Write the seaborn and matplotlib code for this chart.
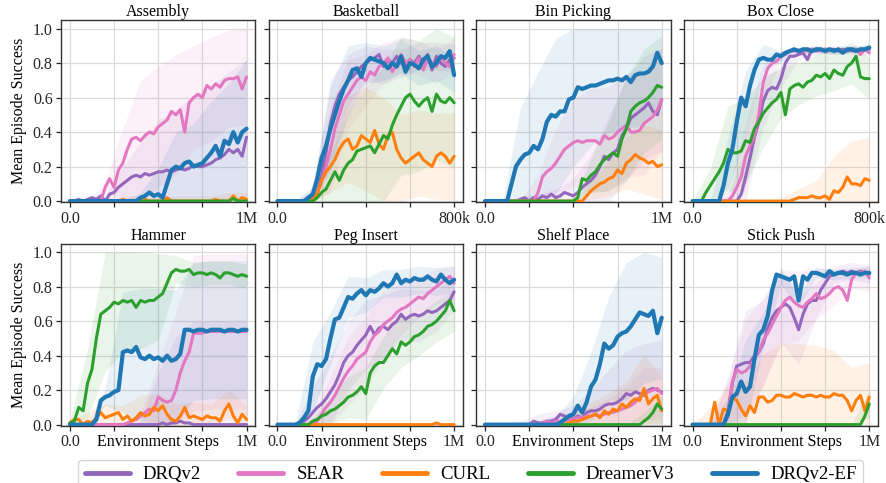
import numpy as np
import pandas as pd
import matplotlib
matplotlib.use("Agg")
import matplotlib.pyplot as plt
from matplotlib.lines import Line2D
import seaborn as sns

# ---------------- data ----------------
METHODS = ["DRQv2", "SEAR", "CURL", "DreamerV3", "DRQv2-EF"]
COLORS = ["#9467bd", "#e377c2", "#ff7f0e", "#2ca02c", "#1f77b4"]
TASKS = ["Assembly", "Basketball", "Bin Picking", "Box Close",
         "Hammer", "Peg Insert", "Shelf Place", "Stick Push"]
TASK_STEPS = [1_000_000, 800_000, 1_000_000, 800_000,
              1_000_000, 1_000_000, 1_000_000, 1_000_000]
END_LABELS = ["1M", "800k", "1M", "800k", "1M", "1M", "1M", "1M"]
Z = 0.0

# Assembly
ASSEMBLY_DRQV2 = [0, 0, 0.01, 0, 0.01, 0.02, 0.01, 0.03, 0, 0.04, 0.05, 0.08, 0.10, 0.12, 0.14, 0.15, 0.14, 0.16, 0.15, 0.16, 0.17, 0.17, 0.18, 0.17, 0.18, 0.19, 0.18, 0.19, 0.21, 0.20, 0.20, 0.21, 0.22, 0.24, 0.25, 0.27, 0.30, 0.28, 0.30, 0.26, 0.37]
ASSEMBLY_SEAR = [Z] * 8 + [0.08, 0.13, 0.08, 0.18, 0.22, 0.30, 0.36, 0.37, 0.35, 0.38, 0.40, 0.39, 0.43, 0.45, 0.47, 0.52, 0.50, 0.53, 0.40, 0.57, 0.60, 0.62, 0.60, 0.67, 0.65, 0.68, 0.66, 0.70, 0.71, 0.71, 0.72, 0.65, 0.72]
ASSEMBLY_CURL = [0, 0, 0, 0, 0, 0, 0, 0, 0, 0, 0, 0, 0.01, 0, 0, 0, 0, 0.01, 0, 0, 0, 0, 0.02, 0, 0, 0, 0, 0, 0, 0, 0, 0, 0, 0.01, 0, 0, 0, 0.03, 0, 0.02, 0.01]
ASSEMBLY_DREAMER = [Z] * 37 + [0.015, 0, 0, 0]
ASSEMBLY_EF = [Z] * 16 + [0.02, 0.03, 0.05, 0.03, 0.04, 0.02, 0.10, 0.18, 0.20, 0.19, 0.22, 0.23, 0.20, 0.21, 0.22, 0.25, 0.28, 0.32, 0.26, 0.35, 0.33, 0.40, 0.34, 0.40, 0.42]
ASSEMBLY_DRQV2_SD = [0, 0.01, 0.03, 0.10, 0.20, 0.30, 0.35, 0.40, 0.45, 0.45, 0.45]
ASSEMBLY_SEAR_SD = [0, 0, 0.03, 0.20, 0.35, 0.35, 0.35, 0.30, 0.30, 0.28, 0.28]
ASSEMBLY_CURL_SD = [0, 0, 0, 0.02, 0.03, 0.02, 0.03, 0.03, 0.03, 0.05, 0.04]
ASSEMBLY_DREAMER_SD = [0, 0, 0, 0, 0, 0, 0, 0, 0.01, 0.02, 0.01]
ASSEMBLY_EF_SD = [0, 0, 0, 0, 0.03, 0.15, 0.20, 0.25, 0.30, 0.35, 0.40]

# Basketball
BASKETBALL_DRQV2 = [Z] * 8 + [0.02, 0.05, 0.15, 0.28, 0.45, 0.55, 0.62, 0.66, 0.70, 0.72, 0.75, 0.78, 0.80, 0.82, 0.83, 0.85, 0.78, 0.82, 0.80, 0.84, 0.80, 0.78, 0.82, 0.80, 0.84, 0.80, 0.85, 0.76, 0.84, 0.80, 0.78, 0.82, 0.83]
BASKETBALL_SEAR = [Z] * 9 + [0.05, 0.12, 0.20, 0.30, 0.42, 0.50, 0.58, 0.62, 0.66, 0.70, 0.72, 0.70, 0.75, 0.73, 0.78, 0.80, 0.83, 0.75, 0.79, 0.85, 0.80, 0.82, 0.78, 0.83, 0.76, 0.82, 0.80, 0.78, 0.84, 0.80, 0.78, 0.85]
BASKETBALL_CURL = [Z] * 8 + [0.01, 0.04, 0.12, 0.17, 0.20, 0.24, 0.30, 0.34, 0.36, 0.30, 0.32, 0.38, 0.36, 0.34, 0.41, 0.33, 0.30, 0.38, 0.40, 0.30, 0.25, 0.22, 0.24, 0.26, 0.28, 0.24, 0.22, 0.20, 0.26, 0.28, 0.26, 0.22, 0.26]
BASKETBALL_DREAMER = [Z] * 9 + [0.02, 0.05, 0.07, 0.12, 0.17, 0.12, 0.18, 0.22, 0.24, 0.29, 0.30, 0.31, 0.32, 0.28, 0.33, 0.38, 0.36, 0.44, 0.50, 0.55, 0.60, 0.62, 0.58, 0.55, 0.58, 0.60, 0.52, 0.62, 0.58, 0.57, 0.60, 0.57]
BASKETBALL_EF = [Z] * 7 + [0.02, 0.04, 0.13, 0.25, 0.32, 0.42, 0.50, 0.58, 0.65, 0.70, 0.76, 0.77, 0.72, 0.80, 0.83, 0.82, 0.81, 0.80, 0.77, 0.80, 0.78, 0.84, 0.75, 0.80, 0.79, 0.77, 0.82, 0.84, 0.78, 0.80, 0.84, 0.83, 0.87, 0.73]
BASKETBALL_DRQV2_SD = [0, 0, 0.05, 0.25, 0.15, 0.10, 0.10, 0.08, 0.08, 0.08, 0.08]
BASKETBALL_SEAR_SD = [0, 0, 0.05, 0.25, 0.20, 0.15, 0.12, 0.10, 0.10, 0.10, 0.10]
BASKETBALL_CURL_SD = [0, 0, 0.02, 0.15, 0.25, 0.30, 0.30, 0.25, 0.25, 0.25, 0.25]
BASKETBALL_DREAMER_SD = [0, 0, 0.02, 0.15, 0.30, 0.35, 0.40, 0.40, 0.38, 0.38, 0.38]
BASKETBALL_EF_SD = [0, 0, 0.05, 0.25, 0.20, 0.12, 0.10, 0.10, 0.10, 0.10, 0.10]

# Bin Picking
BIN_DRQV2 = [Z] * 8 + [0.01, 0.02, 0.0, 0.02, 0.01, 0.03, 0.02, 0.04, 0.02, 0.03, 0.05, 0.04, 0.03, 0.05, 0.08, 0.10, 0.12, 0.15, 0.20, 0.26, 0.24, 0.28, 0.30, 0.38, 0.42, 0.48, 0.50, 0.52, 0.54, 0.57, 0.52, 0.50, 0.59]
BIN_SEAR = [Z] * 12 + [0.05, 0.14, 0.17, 0.19, 0.22, 0.26, 0.30, 0.32, 0.34, 0.35, 0.34, 0.35, 0.35, 0.35, 0.33, 0.38, 0.36, 0.37, 0.40, 0.42, 0.44, 0.40, 0.40, 0.41, 0.45, 0.47, 0.49, 0.53, 0.59]
BIN_CURL = [Z] * 23 + [0.03, 0.06, 0.08, 0.10, 0.11, 0.13, 0.14, 0.18, 0.16, 0.22, 0.24, 0.27, 0.25, 0.24, 0.22, 0.23, 0.20, 0.21]
BIN_DREAMER = [Z] * 21 + [0.02, 0.13, 0.12, 0.15, 0.17, 0.21, 0.24, 0.26, 0.28, 0.26, 0.36, 0.42, 0.52, 0.55, 0.57, 0.58, 0.60, 0.63, 0.67, 0.66]
BIN_EF = [Z] * 6 + [0.10, 0.20, 0.24, 0.27, 0.28, 0.32, 0.30, 0.36, 0.46, 0.50, 0.49, 0.52, 0.52, 0.59, 0.60, 0.66, 0.65, 0.66, 0.67, 0.67, 0.68, 0.69, 0.70, 0.70, 0.71, 0.70, 0.72, 0.69, 0.73, 0.74, 0.74, 0.75, 0.78, 0.86, 0.80]
BIN_DRQV2_SD = [0, 0, 0.02, 0.03, 0.05, 0.10, 0.15, 0.25, 0.30, 0.30, 0.30]
BIN_SEAR_SD = [0, 0, 0, 0.10, 0.20, 0.25, 0.30, 0.30, 0.30, 0.30, 0.30]
BIN_CURL_SD = [0, 0, 0, 0, 0, 0, 0.05, 0.10, 0.15, 0.20, 0.20]
BIN_DREAMER_SD = [0, 0, 0, 0, 0, 0, 0.10, 0.20, 0.30, 0.30, 0.30]
BIN_EF_SD = [0, 0, 0.30, 0.45, 0.45, 0.40, 0.35, 0.30, 0.30, 0.30, 0.20]

# Box Close
BOX_DRQV2 = [Z] * 11 + [0.04, 0.14, 0.25, 0.37, 0.46, 0.58, 0.64, 0.66, 0.65, 0.71, 0.80, 0.84, 0.84, 0.85, 0.86, 0.82, 0.88, 0.87, 0.88, 0.87, 0.88, 0.88, 0.87, 0.88, 0.87, 0.88, 0.88, 0.87, 0.88, 0.88]
BOX_SEAR = [Z] * 9 + [0.03, 0.08, 0.14, 0.26, 0.32, 0.38, 0.50, 0.69, 0.77, 0.80, 0.81, 0.84, 0.85, 0.87, 0.87, 0.87, 0.88, 0.87, 0.88, 0.88, 0.87, 0.88, 0.88, 0.87, 0.88, 0.87, 0.88, 0.87, 0.88, 0.85, 0.88, 0.86]
BOX_CURL = [Z] * 23 + [0.01, 0.02, 0.02, 0.02, 0.03, 0.02, 0.02, 0.03, 0.01, 0.06, 0.05, 0.08, 0.14, 0.10, 0.10, 0.09, 0.13, 0.12]
BOX_DREAMER = [Z] * 3 + [0.05, 0.09, 0.13, 0.17, 0.22, 0.30, 0.28, 0.28, 0.29, 0.35, 0.34, 0.42, 0.46, 0.51, 0.54, 0.57, 0.59, 0.63, 0.50, 0.65, 0.67, 0.68, 0.66, 0.69, 0.70, 0.73, 0.72, 0.74, 0.71, 0.76, 0.74, 0.73, 0.78, 0.80, 0.84, 0.72, 0.71, 0.71]
BOX_EF = [Z] * 7 + [0.09, 0.22, 0.30, 0.46, 0.60, 0.55, 0.67, 0.76, 0.82, 0.83, 0.82, 0.82, 0.85, 0.84, 0.86, 0.87, 0.88, 0.87, 0.88, 0.88, 0.87, 0.88, 0.88, 0.87, 0.88, 0.87, 0.88, 0.86, 0.88, 0.88, 0.87, 0.88, 0.88, 0.89]
BOX_DRQV2_SD = [0, 0, 0.03, 0.20, 0.15, 0.05, 0.03, 0.02, 0.02, 0.02, 0.02]
BOX_SEAR_SD = [0, 0, 0.05, 0.20, 0.10, 0.03, 0.02, 0.02, 0.02, 0.02, 0.02]
BOX_CURL_SD = [0, 0, 0, 0, 0, 0.02, 0.05, 0.10, 0.20, 0.25, 0.25]
BOX_DREAMER_SD = [0, 0.10, 0.25, 0.25, 0.20, 0.15, 0.12, 0.12, 0.12, 0.12, 0.12]
BOX_EF_SD = [0, 0, 0.15, 0.20, 0.08, 0.03, 0.02, 0.02, 0.02, 0.02, 0.02]

# Hammer
HAMMER_DRQV2 = [Z] * 21 + [0.01, 0, 0.01, 0.01, 0.02, 0.01, 0.01] + [Z] * 13
HAMMER_SEAR = [Z] * 13 + [0.01, 0.02, 0.03, 0.05, 0.07, 0.09, 0.08, 0.16, 0.14, 0.13, 0.14, 0.20, 0.30, 0.37, 0.42, 0.53, 0.53, 0.53, 0.54, 0.54, 0.54, 0.54, 0.54, 0.54, 0.54, 0.54, 0.54, 0.54]
HAMMER_CURL = [0.01, 0.03, 0.03, 0.0, 0.02, 0.01, 0.04, 0.07, 0.04, 0.05, 0.06, 0.07, 0.03, 0.05, 0.02, 0.04, 0.07, 0.05, 0.06, 0.10, 0.08, 0.11, 0.06, 0.03, 0.02, 0.05, 0.10, 0.04, 0.05, 0.04, 0.03, 0.05, 0.04, 0.04, 0.02, 0.08, 0.12, 0.05, 0.01, 0.06, 0.03]
HAMMER_DREAMER = [0.01, 0.02, 0.10, 0.08, 0.24, 0.32, 0.50, 0.64, 0.66, 0.68, 0.71, 0.70, 0.72, 0.71, 0.72, 0.68, 0.72, 0.71, 0.72, 0.72, 0.74, 0.76, 0.82, 0.88, 0.90, 0.89, 0.89, 0.90, 0.87, 0.88, 0.88, 0.87, 0.88, 0.87, 0.85, 0.88, 0.88, 0.87, 0.86, 0.87, 0.86]
HAMMER_EF = [Z] * 6 + [0.03, 0.14, 0.16, 0.17, 0.19, 0.20, 0.42, 0.43, 0.42, 0.45, 0.39, 0.38, 0.40, 0.38, 0.39, 0.37, 0.40, 0.37, 0.38, 0.41, 0.55, 0.55, 0.54, 0.55, 0.55, 0.54, 0.55, 0.55, 0.55, 0.54, 0.55, 0.55, 0.54, 0.55, 0.55]
HAMMER_DRQV2_SD = [0, 0, 0, 0, 0.02, 0.30, 0.50, 0.60, 0.60, 0.60, 0.60]
HAMMER_SEAR_SD = [0, 0, 0, 0, 0.02, 0.20, 0.45, 0.45, 0.45, 0.45, 0.45]
HAMMER_CURL_SD = [0.02, 0.05, 0.08, 0.08, 0.10, 0.10, 0.10, 0.08, 0.08, 0.08, 0.08]
HAMMER_DREAMER_SD = [0.01, 0.20, 0.35, 0.30, 0.28, 0.25, 0.08, 0.07, 0.07, 0.07, 0.07]
HAMMER_EF_SD = [0, 0, 0.05, 0.35, 0.40, 0.40, 0.40, 0.40, 0.40, 0.40, 0.40]

# Peg Insert
PEG_DRQV2 = [Z] * 6 + [0.02, 0.04, 0.07, 0.10, 0.12, 0.15, 0.19, 0.23, 0.29, 0.36, 0.40, 0.42, 0.46, 0.49, 0.52, 0.57, 0.52, 0.56, 0.57, 0.55, 0.58, 0.60, 0.64, 0.61, 0.63, 0.64, 0.63, 0.64, 0.66, 0.65, 0.66, 0.68, 0.70, 0.72, 0.77]
PEG_SEAR = [Z] * 9 + [0.02, 0.06, 0.10, 0.13, 0.17, 0.22, 0.27, 0.31, 0.34, 0.38, 0.40, 0.42, 0.48, 0.52, 0.54, 0.58, 0.60, 0.62, 0.65, 0.67, 0.68, 0.70, 0.72, 0.74, 0.73, 0.76, 0.78, 0.80, 0.82, 0.84, 0.86, 0.82]
PEG_CURL = [Z] * 36 + [0.01, 0, 0, 0, 0]
PEG_DREAMER = [Z] * 8 + [0.02, 0.03, 0.05, 0.06, 0.08, 0.09, 0.11, 0.13, 0.16, 0.17, 0.19, 0.22, 0.18, 0.30, 0.34, 0.36, 0.36, 0.40, 0.44, 0.41, 0.48, 0.46, 0.48, 0.51, 0.52, 0.54, 0.57, 0.58, 0.60, 0.63, 0.66, 0.72, 0.66]
PEG_EF = [Z] * 5 + [0.01, 0.04, 0.08, 0.28, 0.35, 0.34, 0.38, 0.50, 0.61, 0.62, 0.68, 0.74, 0.73, 0.76, 0.78, 0.75, 0.78, 0.77, 0.79, 0.82, 0.80, 0.82, 0.87, 0.82, 0.84, 0.83, 0.85, 0.84, 0.84, 0.86, 0.84, 0.83, 0.87, 0.84, 0.82, 0.84]
PEG_DRQV2_SD = [0, 0, 0.15, 0.20, 0.20, 0.20, 0.18, 0.15, 0.15, 0.12, 0.10]
PEG_SEAR_SD = [0, 0, 0.05, 0.15, 0.20, 0.20, 0.20, 0.15, 0.12, 0.10, 0.10]
PEG_CURL_SD = [0, 0, 0, 0, 0, 0, 0, 0, 0, 0.005, 0]
PEG_DREAMER_SD = [0, 0, 0.02, 0.08, 0.12, 0.15, 0.15, 0.15, 0.12, 0.12, 0.12]
PEG_EF_SD = [0, 0, 0.20, 0.15, 0.12, 0.10, 0.08, 0.08, 0.08, 0.08, 0.08]

# Shelf Place
SHELF_DRQV2 = [Z] * 11 + [0.02, 0.01, 0.01, 0.02, 0.02, 0.03, 0.06, 0.05, 0.04, 0.03, 0.05, 0.04, 0.07, 0.08, 0.08, 0.09, 0.11, 0.12, 0.12, 0.13, 0.15, 0.18, 0.17, 0.19, 0.18, 0.17, 0.20, 0.21, 0.20, 0.19]
SHELF_SEAR = [Z] * 11 + [0.01, 0.0, 0.01, 0.02, 0.01, 0.02, 0.02, 0.02, 0.03, 0.03, 0.04, 0.04, 0.05, 0.05, 0.06, 0.05, 0.06, 0.07, 0.07, 0.08, 0.09, 0.10, 0.11, 0.13, 0.16, 0.18, 0.19, 0.20, 0.21, 0.18]
SHELF_CURL = [Z] * 19 + [0.01, 0.02, 0.02, 0.03, 0.04, 0.05, 0.06, 0.04, 0.08, 0.06, 0.09, 0.08, 0.12, 0.10, 0.13, 0.15, 0.14, 0.21, 0.12, 0.15, 0.17, 0.08]
SHELF_DREAMER = [Z] * 36 + [0.02, 0.04, 0.07, 0.12, 0.09]
SHELF_EF = [Z] * 17 + [0.01, 0.03, 0.05, 0.06, 0.11, 0.07, 0.13, 0.22, 0.26, 0.35, 0.47, 0.44, 0.46, 0.51, 0.53, 0.54, 0.57, 0.61, 0.65, 0.64, 0.63, 0.66, 0.53, 0.62]
SHELF_DRQV2_SD = [0, 0, 0.02, 0.05, 0.05, 0.08, 0.12, 0.20, 0.25, 0.30, 0.30]
SHELF_SEAR_SD = [0, 0, 0.01, 0.02, 0.03, 0.05, 0.05, 0.08, 0.12, 0.15, 0.15]
SHELF_CURL_SD = [0, 0, 0, 0, 0.02, 0.05, 0.08, 0.12, 0.15, 0.20, 0.20]
SHELF_DREAMER_SD = [0, 0, 0, 0, 0, 0, 0, 0, 0, 0.05, 0.08]
SHELF_EF_SD = [0, 0, 0, 0.02, 0.05, 0.10, 0.20, 0.30, 0.40, 0.40, 0.35]

# Stick Push
STICK_DRQV2 = [Z] * 8 + [0.08, 0.24, 0.34, 0.35, 0.36, 0.36, 0.40, 0.42, 0.47, 0.56, 0.62, 0.66, 0.68, 0.70, 0.68, 0.62, 0.55, 0.64, 0.70, 0.72, 0.72, 0.78, 0.82, 0.86, 0.87, 0.88, 0.89, 0.88, 0.89, 0.88, 0.89, 0.88, 0.87]
STICK_SEAR = [Z] * 8 + [0.05, 0.25, 0.32, 0.30, 0.31, 0.34, 0.38, 0.42, 0.49, 0.53, 0.58, 0.63, 0.68, 0.72, 0.74, 0.71, 0.69, 0.68, 0.71, 0.73, 0.76, 0.73, 0.74, 0.76, 0.79, 0.80, 0.78, 0.72, 0.84, 0.88, 0.88, 0.89, 0.85]
STICK_CURL = [Z] * 5 + [0.13, 0.0, 0.09, 0.08, 0.16, 0.14, 0.09, 0.05, 0.11, 0.07, 0.16, 0.16, 0.13, 0.14, 0.17, 0.17, 0.16, 0.16, 0.18, 0.17, 0.16, 0.17, 0.17, 0.16, 0.17, 0.16, 0.16, 0.18, 0.17, 0.17, 0.14, 0.08, 0.14, 0.17, 0.08, 0.16]
STICK_DREAMER = [Z] * 39 + [0.05, 0.12]
STICK_EF = [Z] * 8 + [0.06, 0.16, 0.18, 0.25, 0.19, 0.22, 0.38, 0.52, 0.55, 0.63, 0.78, 0.87, 0.86, 0.85, 0.84, 0.86, 0.72, 0.86, 0.84, 0.88, 0.88, 0.87, 0.86, 0.89, 0.87, 0.88, 0.88, 0.87, 0.88, 0.88, 0.87, 0.88, 0.88]
STICK_DRQV2_SD = [0, 0, 0.20, 0.30, 0.25, 0.20, 0.20, 0.10, 0.05, 0.05, 0.05]
STICK_SEAR_SD = [0, 0, 0.20, 0.30, 0.25, 0.22, 0.20, 0.15, 0.10, 0.05, 0.08]
STICK_CURL_SD = [0, 0.10, 0.15, 0.20, 0.25, 0.30, 0.30, 0.30, 0.25, 0.25, 0.20]
STICK_DREAMER_SD = [0, 0, 0, 0, 0, 0, 0, 0, 0, 0, 0.08]
STICK_EF_SD = [0, 0, 0.10, 0.30, 0.10, 0.05, 0.03, 0.03, 0.03, 0.03, 0.03]

MEANS = [
    [ASSEMBLY_DRQV2, ASSEMBLY_SEAR, ASSEMBLY_CURL, ASSEMBLY_DREAMER, ASSEMBLY_EF],
    [BASKETBALL_DRQV2, BASKETBALL_SEAR, BASKETBALL_CURL, BASKETBALL_DREAMER, BASKETBALL_EF],
    [BIN_DRQV2, BIN_SEAR, BIN_CURL, BIN_DREAMER, BIN_EF],
    [BOX_DRQV2, BOX_SEAR, BOX_CURL, BOX_DREAMER, BOX_EF],
    [HAMMER_DRQV2, HAMMER_SEAR, HAMMER_CURL, HAMMER_DREAMER, HAMMER_EF],
    [PEG_DRQV2, PEG_SEAR, PEG_CURL, PEG_DREAMER, PEG_EF],
    [SHELF_DRQV2, SHELF_SEAR, SHELF_CURL, SHELF_DREAMER, SHELF_EF],
    [STICK_DRQV2, STICK_SEAR, STICK_CURL, STICK_DREAMER, STICK_EF],
]
SPREADS = [
    [ASSEMBLY_DRQV2_SD, ASSEMBLY_SEAR_SD, ASSEMBLY_CURL_SD, ASSEMBLY_DREAMER_SD, ASSEMBLY_EF_SD],
    [BASKETBALL_DRQV2_SD, BASKETBALL_SEAR_SD, BASKETBALL_CURL_SD, BASKETBALL_DREAMER_SD, BASKETBALL_EF_SD],
    [BIN_DRQV2_SD, BIN_SEAR_SD, BIN_CURL_SD, BIN_DREAMER_SD, BIN_EF_SD],
    [BOX_DRQV2_SD, BOX_SEAR_SD, BOX_CURL_SD, BOX_DREAMER_SD, BOX_EF_SD],
    [HAMMER_DRQV2_SD, HAMMER_SEAR_SD, HAMMER_CURL_SD, HAMMER_DREAMER_SD, HAMMER_EF_SD],
    [PEG_DRQV2_SD, PEG_SEAR_SD, PEG_CURL_SD, PEG_DREAMER_SD, PEG_EF_SD],
    [SHELF_DRQV2_SD, SHELF_SEAR_SD, SHELF_CURL_SD, SHELF_DREAMER_SD, SHELF_EF_SD],
    [STICK_DRQV2_SD, STICK_SEAR_SD, STICK_CURL_SD, STICK_DREAMER_SD, STICK_EF_SD],
]

# ---------------- style ----------------
sns.set_theme(style="whitegrid", rc={
    "axes.edgecolor": "0.2",
    "axes.linewidth": 1.0,
    "grid.color": "0.86",
    "grid.linewidth": 0.9,
    "xtick.bottom": True,
    "ytick.left": True,
    "xtick.major.size": 3.5,
    "ytick.major.size": 3.5,
    "xtick.major.width": 0.9,
    "ytick.major.width": 0.9,
    "xtick.color": "0.15",
    "ytick.color": "0.15",
    "text.color": "black",
    "axes.labelcolor": "black",
})
plt.rcParams["font.family"] = ["Liberation Serif", "DejaVu Serif"]
FS = 11.5

fig, axes = plt.subplots(2, 4, figsize=(8.87, 4.83), dpi=100, sharey=True)
fig.subplots_adjust(left=0.0688, right=0.990, top=0.9586, bottom=0.118,
                    wspace=0.068, hspace=0.225)

for k, ax in enumerate(axes.flat):
    steps = TASK_STEPS[k]
    # bands first
    for mean, sd, color in zip(MEANS[k], SPREADS[k], COLORS):
        mean = np.asarray(mean, dtype=float)
        x = np.linspace(0, steps, len(mean))
        idx = np.round(np.linspace(0, len(mean) - 1, len(sd))).astype(int)
        mb = mean[idx]
        sd = np.asarray(sd, dtype=float)
        lo = np.clip(mb - sd, 0, 1)
        hi = np.clip(mb + sd, 0, 1)
        ax.fill_between(x[idx], lo, hi, color=color, alpha=0.1, lw=0, zorder=1)
    for mean, color, name in zip(MEANS[k], COLORS, METHODS):
        x = np.linspace(0, steps, len(mean))
        df = pd.DataFrame({"Environment Steps": x, "success": mean})
        lw = 3.0 if name == "DRQv2-EF" else 2.2
        sns.lineplot(data=df, x="Environment Steps", y="success", color=color,
                     linewidth=lw, ax=ax, legend=False, errorbar=None,
                     sort=False, zorder=3)
    ax.set_title(TASKS[k], fontsize=FS, pad=1.5)
    ax.set_ylim(-0.008, 1.05)
    ax.set_yticks([0.0, 0.2, 0.4, 0.6, 0.8, 1.0])
    ax.set_yticklabels(["0.0", "0.2", "0.4", "0.6", "0.8", "1.0"])
    ax.set_xticks([0, steps * 0.25, steps * 0.5, steps * 0.75, steps])
    ax.set_xticklabels(["0.0", "", "", "", END_LABELS[k]])
    ax.tick_params(axis="both", labelsize=FS, pad=2.5)
    for s in ax.spines.values():
        s.set_visible(True)
        s.set_color("0.2")
    if k % 4 == 0:
        ax.set_ylabel("Mean Episode Success", fontsize=FS)
    else:
        ax.set_ylabel("")
    if k >= 4:
        ax.set_xlabel("Environment Steps", fontsize=FS, labelpad=-12)
    else:
        ax.set_xlabel("")

handles = [Line2D([0], [0], color=c, lw=3.5) for c in COLORS]
fig.legend(handles, METHODS, loc="upper center", bbox_to_anchor=(0.5305, 0.068),
           ncol=5, fontsize=13.5, frameon=True, handlelength=2.4,
           columnspacing=2.0, handletextpad=0.7, borderpad=0.35,
           edgecolor="0.8", fancybox=True)

fig.savefig("out.png", dpi=100)
